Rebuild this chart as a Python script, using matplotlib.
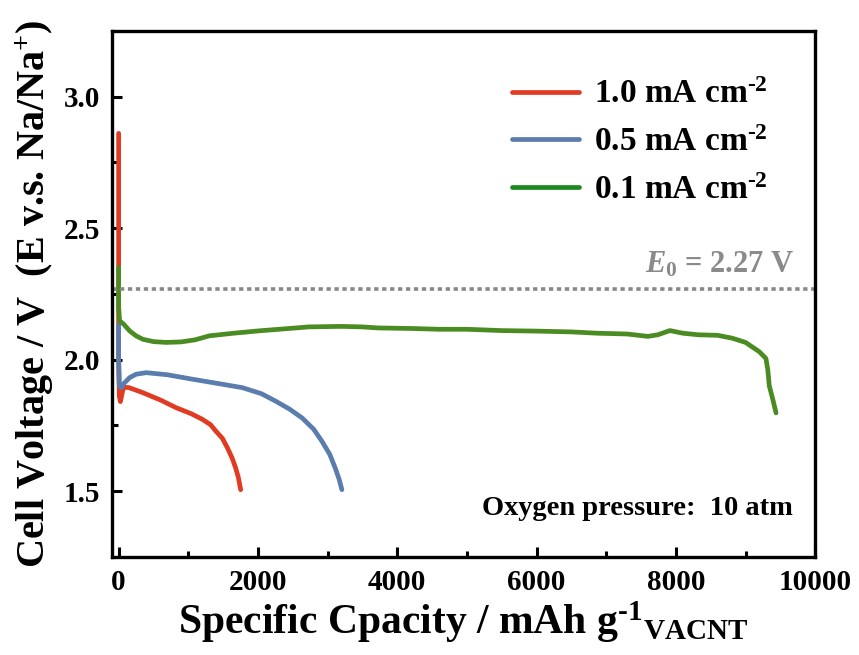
import matplotlib
matplotlib.use("Agg")
import matplotlib.pyplot as plt
from matplotlib.ticker import MultipleLocator

plt.rcParams['font.family'] = ['Liberation Serif', 'DejaVu Serif']
plt.rcParams['font.weight'] = 'bold'
plt.rcParams['mathtext.fontset'] = 'custom'
plt.rcParams['mathtext.rm'] = 'Liberation Serif:bold'
plt.rcParams['mathtext.it'] = 'Liberation Serif:bold:italic'
plt.rcParams['mathtext.bf'] = 'Liberation Serif:bold'

# ---- data ----
red_x = [0, 0, 0, 10, 25, 45, 70, 150, 347, 600, 824, 1050, 1205, 1320, 1395, 1490, 1562, 1630, 1681, 1720, 1752]
red_y = [2.86, 2.40, 2.00, 1.86, 1.84, 1.865, 1.895, 1.893, 1.874, 1.846, 1.817, 1.793, 1.772, 1.752, 1.728, 1.700, 1.664, 1.625, 1.587, 1.550, 1.505]

blue_x = [0, 0, 10, 38, 80, 157, 250, 395, 700, 1062, 1400, 1776, 2050, 2252, 2450, 2633, 2800, 2919, 3030, 3110, 3165, 3205]
blue_y = [2.13, 2.00, 1.90, 1.893, 1.91, 1.931, 1.944, 1.95, 1.942, 1.925, 1.91, 1.893, 1.870, 1.842, 1.812, 1.778, 1.735, 1.689, 1.640, 1.587, 1.545, 1.505]

green_x = [0, 0, 14, 70, 157, 250, 347, 500, 681, 900, 1100, 1300, 1650, 2014, 2400, 2728, 3200, 3500, 3730,
           4200, 4600, 5000, 5500, 6000, 6500, 6871, 7300, 7597, 7740, 7914, 8100, 8324,
           8600, 8810, 9000, 9196, 9293, 9320, 9341, 9390, 9438]
green_y = [2.35, 2.20, 2.147, 2.135, 2.109, 2.09, 2.077, 2.068, 2.065, 2.067, 2.075, 2.09, 2.100, 2.109, 2.117, 2.124, 2.126, 2.124, 2.12,
           2.118, 2.115, 2.115, 2.11, 2.108, 2.105, 2.10, 2.097, 2.088, 2.094, 2.110, 2.10, 2.094,
           2.092, 2.081, 2.065, 2.03, 2.004, 1.96, 1.90, 1.85, 1.797]

labels = ['1.0 mA cm$^{\\text{-2}}$', '0.5 mA cm$^{\\text{-2}}$', '0.1 mA cm$^{\\text{-2}}$']
line_colors = ['#E03C24', '#5A7DAE', '#4A8C22']
legend_colors = ['#E03C24', '#5A7DAE', '#1E8A1E']
e0 = 2.27

fig = plt.figure(figsize=(8.59, 6.55), dpi=100)
ax = fig.add_axes([0.130, 0.150, 0.819, 0.803])

for xs, ys, c in [(red_x, red_y, line_colors[0]), (blue_x, blue_y, line_colors[1]), (green_x, green_y, line_colors[2])]:
    ax.plot(xs, ys, color=c, lw=3.4, solid_capstyle='round', solid_joinstyle='round')

ax.axhline(e0, color='#888888', lw=2.6, ls=(0, (1.2, 1.0)))
ax.text(9700, e0 + 0.035, '$E_{\\mathit{0}}$ = 2.27 V', color='#8a8a8a', fontsize=22,
        ha='right', va='bottom', fontweight='bold')

ax.text(9680, 1.48, 'Oxygen pressure:  10 atm', fontsize=20.5, ha='right', va='top', fontweight='bold')

handles = [plt.Line2D([], [], color=c, lw=3.4, solid_capstyle='round') for c in legend_colors]
leg = ax.legend(handles, labels, loc='upper right', bbox_to_anchor=(0.975, 0.965), frameon=False,
                prop={'family': 'Liberation Serif', 'weight': 'bold', 'size': 24},
                handlelength=2.0, handletextpad=0.45, labelspacing=0.5)

ax.set_xlim(-100, 10000)
ax.set_ylim(1.25, 3.25)
ax.xaxis.set_major_locator(MultipleLocator(2000))
ax.xaxis.set_minor_locator(MultipleLocator(1000))
ax.yaxis.set_major_locator(MultipleLocator(0.5))
ax.yaxis.set_minor_locator(MultipleLocator(0.25))
ax.tick_params(which='both', direction='in', width=2.2, labelsize=21, top=False, right=False)
ax.tick_params(which='major', length=7)
ax.tick_params(which='minor', length=4)
ax.tick_params(axis='x', pad=9)
ax.tick_params(axis='y', pad=8)
for s in ax.spines.values():
    s.set_linewidth(2.4)
for lab in ax.get_xticklabels() + ax.get_yticklabels():
    lab.set_fontweight('bold')

ax.set_xlabel('Specific Cpacity / mAh g$^{\\text{-1}}$$_{\\text{VACNT}}$', fontsize=30, fontweight='bold', labelpad=2)
ax.set_ylabel('Cell Voltage / V  (E v.s. Na/Na$^{+}$)', fontsize=29, fontweight='bold', labelpad=6)

fig.savefig('out.png', dpi=100)
